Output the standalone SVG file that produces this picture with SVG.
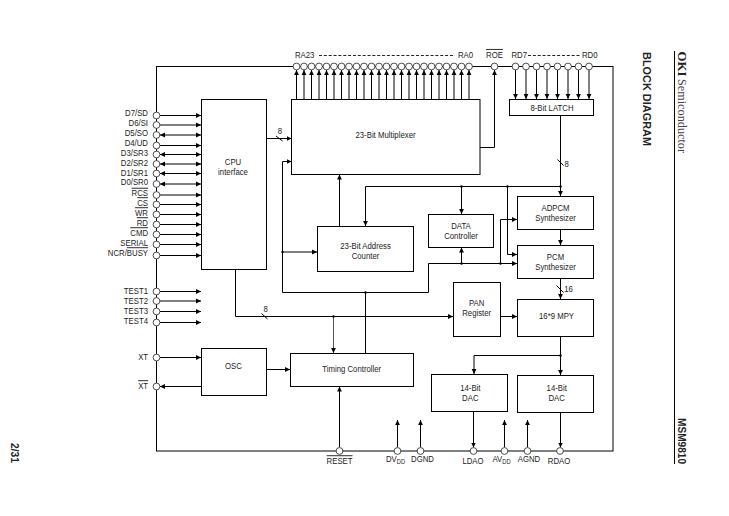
<svg xmlns="http://www.w3.org/2000/svg" width="729" height="516" viewBox="0 0 729 516">
<style>
text{font-family:"Liberation Sans",Arial,sans-serif;font-size:9.5px;fill:#222}
.l text,.n text{transform-box:fill-box;transform:scaleX(.82);transform-origin:left center}
.l text.m,.n text.m{text-anchor:middle;transform-origin:center}
.l text.r{text-anchor:end;transform-origin:right center}
.o{text-decoration:overline}
.b{fill:#fff;stroke:#000;stroke-width:1}
.p{fill:#fff;stroke:#222;stroke-width:.8}
.w{fill:none;stroke:#000;stroke-width:1}
.a{marker-end:url(#h)}
.s{marker-start:url(#t)}
.d{fill:#000}
.sub{font-size:7px}
</style>
<defs>
<marker id="h" markerUnits="userSpaceOnUse" markerWidth="6" markerHeight="6" refX="5" refY="3" orient="auto"><path d="M0,.6L5,3L0,5.4z" fill="#000"/></marker>
<marker id="t" markerUnits="userSpaceOnUse" markerWidth="6" markerHeight="6" refX="0" refY="3" orient="auto"><path d="M5,.6L0,3L5,5.4z" fill="#000"/></marker>
</defs>

<g id="connectors">
<rect class="w" x="156.5" y="66.5" width="456.5" height="384.5"/>
<!-- address bus outputs -->
<path class="a w" d="M296.5 99V70"/><path class="a w" d="M304 99V70"/><path class="a w" d="M311.5 99V70"/><path class="a w" d="M319 99V70"/><path class="a w" d="M326.5 99V70"/><path class="a w" d="M334 99V70"/><path class="a w" d="M341.5 99V70"/><path class="a w" d="M349 99V70"/><path class="a w" d="M356.5 99V70"/><path class="a w" d="M364 99V70"/><path class="a w" d="M371.5 99V70"/><path class="a w" d="M379 99V70"/><path class="a w" d="M386.5 99V70"/><path class="a w" d="M394 99V70"/><path class="a w" d="M401.5 99V70"/><path class="a w" d="M409 99V70"/><path class="a w" d="M416.5 99V70"/><path class="a w" d="M424 99V70"/><path class="a w" d="M431.5 99V70"/><path class="a w" d="M439 99V70"/><path class="a w" d="M446.5 99V70"/><path class="a w" d="M454 99V70"/><path class="a w" d="M461.5 99V70"/><path class="a w" d="M469 99V70"/>
<path class="a w" d="M480 147.5H494.5V70"/>
<!-- data bus inputs -->
<path class="a w" d="M515.5 70V99"/><path class="a w" d="M526 70V99"/><path class="a w" d="M536.5 70V99"/><path class="a w" d="M547 70V99"/><path class="a w" d="M557.5 70V99"/><path class="a w" d="M568 70V99"/><path class="a w" d="M578.5 70V99"/><path class="a w" d="M589 70V99"/>
<path class="a w" d="M560.5 115V196"/>
<path class="w" d="M557.5 159.5L563.5 165.5"/>
<path class="a w" d="M560.5 186.5H365.5V226"/>
<path class="a w" d="M461.5 186.5V214"/>
<path class="a w" d="M507.5 186.5V254.5H517"/>
<circle class="d" cx="461.5" cy="186.5" r="1.2"/><circle class="d" cx="507.5" cy="186.5" r="1.2"/><circle class="d" cx="560.5" cy="186.5" r="1.2"/>
<!-- timing distribution -->
<path class="a w" d="M365.5 353V292.5H282.5V161.5H291.5"/>
<path class="a w" d="M365.5 292.5H428.5V263.5H517"/>
<path class="a w" d="M461.5 263.5V247.5"/>
<path class="a w" d="M500.5 263.5V219.5H517"/>
<path class="a w" d="M282.5 252H317"/>
<path class="a w" d="M339.5 226V174.5"/>
<circle class="d" cx="365.5" cy="292.5" r="1.2"/><circle class="d" cx="461.5" cy="263.5" r="1.2"/><circle class="d" cx="500.5" cy="263.5" r="1.2"/><circle class="d" cx="282.5" cy="252" r="1.2"/>
<!-- CPU buses -->
<path class="a w" d="M266.5 138.5H291.5"/>
<path class="w" d="M276 136L282.5 141"/>
<path class="a w" d="M235.5 269.5V316.5H453"/>
<path class="w" d="M261.5 313.5L267.5 319"/>
<path class="a" d="M333.5 316.5V353" fill="none" stroke="#555"/>
<circle class="d" cx="333.5" cy="316.5" r="1.2"/>
<!-- audio path -->
<path class="a w" d="M560.5 229.5V245"/>
<path class="a w" d="M560.5 278.5V299"/>
<path class="w" d="M556.5 285.5L563.5 292.5"/>
<path class="a w" d="M500.5 316.5H517"/>
<path class="a w" d="M560.5 336.5V375"/>
<path class="a w" d="M560.5 355.5H474V374"/>
<circle class="d" cx="560.5" cy="355.5" r="1.2"/>
<path class="a w" d="M473.5 411.5V447.5"/>
<path class="a w" d="M560.5 412.5V447.5"/>
<!-- clock and supply pins -->
<path class="a w" d="M160 357.5H201"/>
<path class="a w" d="M201 386.5H160"/>
<path class="a w" d="M266.5 369.5H290"/>
<path class="a w" d="M339.5 447.5V386.5"/>
<path class="a w" d="M397.5 447.5V420"/>
<path class="a w" d="M420.5 447.5V420"/>
<path class="a w" d="M504.5 447.5V420"/>
<path class="a w" d="M527.5 447.5V420"/>
<!-- CPU interface pins -->
<path class="a w" d="M160 115.5H201"/>
<path class="a w" d="M160 125H201"/>
<path class="a s w" d="M160 135H201"/>
<path class="a w" d="M160 145.5H201"/>
<path class="a s w" d="M160 154.5H201"/>
<path class="a s w" d="M160 164H201"/>
<path class="a s w" d="M160 173.5H201"/>
<path class="a s w" d="M160 184H201"/>
<path class="a w" d="M160 195H201"/>
<path class="a w" d="M160 204.5H201"/>
<path class="a w" d="M160 214.5H201"/>
<path class="a w" d="M160 224.5H201"/>
<path class="a w" d="M160 234.5H201"/>
<path class="a w" d="M160 244.5H201"/>
<path class="a w" d="M160 255.5H201"/>
<path class="a w" d="M160 291.5H201"/>
<path class="a w" d="M160 301H201"/>
<path class="a w" d="M160 311.5H201"/>
<path class="a w" d="M160 322.5H201"/>
<!-- bus label dashes -->
<path d="M319 55.5H455M528 55.5H580" fill="none" stroke="#222" stroke-width="1" stroke-dasharray="3 1.85"/>
</g>

<g id="cpu-interface" class="n"><rect class="b" x="201.5" y="99.5" width="65" height="170"/><text class="m" x="233" y="165">CPU</text><text class="m" x="233" y="175">interface</text></g>
<g id="multiplexer" class="n"><rect class="b" x="291.5" y="99.5" width="188.5" height="75"/><text class="m" x="385.5" y="138">23-Bit Multiplexer</text></g>
<g id="latch" class="n"><rect class="b" x="509.5" y="99.5" width="84" height="16"/><text class="m" x="552" y="110.7">8-Bit LATCH</text></g>
<g id="address-counter" class="n"><rect class="b" x="317.5" y="226.5" width="96" height="45"/><text class="m" x="365.5" y="249">23-Bit Address</text><text class="m" x="365.5" y="259">Counter</text></g>
<g id="data-controller" class="n"><rect class="b" x="428.5" y="214.5" width="65" height="33"/><text class="m" x="461" y="229">DATA</text><text class="m" x="461" y="239">Controller</text></g>
<g id="adpcm" class="n"><rect class="b" x="517.5" y="196.5" width="76" height="33"/><text class="m" x="555.5" y="211">ADPCM</text><text class="m" x="555.5" y="221">Synthesizer</text></g>
<g id="pcm" class="n"><rect class="b" x="517.5" y="245.5" width="76" height="33"/><text class="m" x="555.5" y="260">PCM</text><text class="m" x="555.5" y="270">Synthesizer</text></g>
<g id="pan-register" class="n"><rect class="b" x="453.5" y="282.5" width="47" height="54"/><text class="m" x="476.7" y="306">PAN</text><text class="m" x="476.7" y="316">Register</text></g>
<g id="mpy" class="n"><rect class="b" x="517.5" y="299.5" width="76" height="37"/><text class="m" x="556.5" y="319">16*9 MPY</text></g>
<g id="osc" class="n"><rect class="b" x="201.5" y="348.5" width="65" height="47"/><text class="m" x="233.5" y="368.7">OSC</text></g>
<g id="timing-controller" class="n"><rect class="b" x="290.5" y="353.5" width="123" height="33"/><text class="m" x="351.7" y="372">Timing Controller</text></g>
<g id="dac-left" class="n"><rect class="b" x="431.5" y="374.5" width="76" height="37"/><text class="m" x="470.3" y="390.7">14-Bit</text><text class="m" x="470.3" y="400.7">DAC</text></g>
<g id="dac-right" class="n"><rect class="b" x="517.5" y="375.5" width="76" height="37"/><text class="m" x="556.7" y="390.7">14-Bit</text><text class="m" x="556.7" y="400.7">DAC</text></g>

<g id="pins-address" class="l">
<circle class="p" cx="296.5" cy="66.5" r="3.4"/><circle class="p" cx="304" cy="66.5" r="3.4"/><circle class="p" cx="311.5" cy="66.5" r="3.4"/><circle class="p" cx="319" cy="66.5" r="3.4"/><circle class="p" cx="326.5" cy="66.5" r="3.4"/><circle class="p" cx="334" cy="66.5" r="3.4"/><circle class="p" cx="341.5" cy="66.5" r="3.4"/><circle class="p" cx="349" cy="66.5" r="3.4"/><circle class="p" cx="356.5" cy="66.5" r="3.4"/><circle class="p" cx="364" cy="66.5" r="3.4"/><circle class="p" cx="371.5" cy="66.5" r="3.4"/><circle class="p" cx="379" cy="66.5" r="3.4"/><circle class="p" cx="386.5" cy="66.5" r="3.4"/><circle class="p" cx="394" cy="66.5" r="3.4"/><circle class="p" cx="401.5" cy="66.5" r="3.4"/><circle class="p" cx="409" cy="66.5" r="3.4"/><circle class="p" cx="416.5" cy="66.5" r="3.4"/><circle class="p" cx="424" cy="66.5" r="3.4"/><circle class="p" cx="431.5" cy="66.5" r="3.4"/><circle class="p" cx="439" cy="66.5" r="3.4"/><circle class="p" cx="446.5" cy="66.5" r="3.4"/><circle class="p" cx="454" cy="66.5" r="3.4"/><circle class="p" cx="461.5" cy="66.5" r="3.4"/><circle class="p" cx="469" cy="66.5" r="3.4"/>
<text x="295" y="57.7">RA23</text><text x="458" y="57.7">RA0</text>
</g>
<g id="pin-roe" class="l"><circle class="p" cx="494.5" cy="66.5" r="3.4"/><text class="m o" x="494.5" y="57.7">ROE</text></g>
<g id="pins-data" class="l">
<circle class="p" cx="515.5" cy="66.5" r="3.4"/><circle class="p" cx="526" cy="66.5" r="3.4"/><circle class="p" cx="536.5" cy="66.5" r="3.4"/><circle class="p" cx="547" cy="66.5" r="3.4"/><circle class="p" cx="557.5" cy="66.5" r="3.4"/><circle class="p" cx="568" cy="66.5" r="3.4"/><circle class="p" cx="578.5" cy="66.5" r="3.4"/><circle class="p" cx="589" cy="66.5" r="3.4"/>
<text x="511.5" y="57.7">RD7</text><text x="582" y="57.7">RD0</text>
</g>
<g id="pins-cpu" class="l">
<circle class="p" cx="156.5" cy="115.5" r="3.4"/><text class="r" x="148" y="116">D7/SD</text>
<circle class="p" cx="156.5" cy="125" r="3.4"/><text class="r" x="148" y="126">D6/SI</text>
<circle class="p" cx="156.5" cy="135" r="3.4"/><text class="r" x="148" y="136">D5/SO</text>
<circle class="p" cx="156.5" cy="145.5" r="3.4"/><text class="r" x="148" y="146">D4/UD</text>
<circle class="p" cx="156.5" cy="154.5" r="3.4"/><text class="r" x="148" y="156">D3/SR3</text>
<circle class="p" cx="156.5" cy="164" r="3.4"/><text class="r" x="148" y="166">D2/SR2</text>
<circle class="p" cx="156.5" cy="173.5" r="3.4"/><text class="r" x="148" y="176">D1/SR1</text>
<circle class="p" cx="156.5" cy="184" r="3.4"/><text class="r" x="148" y="185.5">D0/SR0</text>
<circle class="p" cx="156.5" cy="195" r="3.4"/><text class="r o" x="148" y="196.5">RCS</text>
<circle class="p" cx="156.5" cy="204.5" r="3.4"/><text class="r o" x="148" y="206">CS</text>
<circle class="p" cx="156.5" cy="214.5" r="3.4"/><text class="r o" x="148" y="216">WR</text>
<circle class="p" cx="156.5" cy="224.5" r="3.4"/><text class="r o" x="148" y="226">RD</text>
<circle class="p" cx="156.5" cy="234.5" r="3.4"/><text class="r o" x="148" y="236">CMD</text>
<circle class="p" cx="156.5" cy="244.5" r="3.4"/><text class="r" x="148" y="246">SERIAL</text>
<circle class="p" cx="156.5" cy="255.5" r="3.4"/><text class="r" x="148" y="256">NCR/<tspan class="o">BUSY</tspan></text>
</g>
<g id="pins-test" class="l">
<circle class="p" cx="156.5" cy="291.5" r="3.4"/><text class="r" x="148" y="294">TEST1</text>
<circle class="p" cx="156.5" cy="301" r="3.4"/><text class="r" x="148" y="304">TEST2</text>
<circle class="p" cx="156.5" cy="311.5" r="3.4"/><text class="r" x="148" y="314">TEST3</text>
<circle class="p" cx="156.5" cy="322.5" r="3.4"/><text class="r" x="148" y="324">TEST4</text>
</g>
<g id="pins-clock" class="l">
<circle class="p" cx="156.5" cy="357.5" r="3.4"/><text class="r" x="148" y="360">XT</text>
<circle class="p" cx="156.5" cy="386.5" r="3.4"/><text class="r o" x="148" y="389">XT</text>
</g>
<g id="pins-bottom" class="l">
<circle class="p" cx="339.5" cy="451" r="3.4"/><text class="m o" x="339.5" y="464">RESET</text>
<circle class="p" cx="397.5" cy="451" r="3.4"/><text x="386" y="462">DV<tspan class="sub" dy="2">DD</tspan></text>
<circle class="p" cx="420.5" cy="451" r="3.4"/><text class="m" x="422.5" y="462">DGND</text>
<circle class="p" cx="473.5" cy="451" r="3.4"/><text class="m" x="473" y="464">LDAO</text>
<circle class="p" cx="504.5" cy="451" r="3.4"/><text x="492.5" y="462">AV<tspan class="sub" dy="2">DD</tspan></text>
<circle class="p" cx="527.5" cy="451" r="3.4"/><text class="m" x="529" y="462">AGND</text>
<circle class="p" cx="560" cy="451" r="3.4"/><text class="m" x="559" y="464">RDAO</text>
</g>
<g id="bus-widths" class="l">
<text class="m" x="280" y="134">8</text>
<text x="564.5" y="167">8</text>
<text class="m" x="265.7" y="311.7">8</text>
<text x="564.3" y="291.7">16</text>
</g>

<g id="page-furniture">
<path d="M674.5 51V464" stroke="#000" stroke-width="1" fill="none"/>
<text transform="translate(677.5 51.5) rotate(90)" style="font-family:'Liberation Serif',serif;font-weight:bold;font-size:13.5px" textLength="25" lengthAdjust="spacingAndGlyphs">OKI</text>
<text transform="translate(678 79) rotate(90)" style="font-family:'Liberation Serif',serif;font-size:12.5px;fill:#444" textLength="74" lengthAdjust="spacingAndGlyphs">Semiconductor</text>
<text transform="translate(643 52) rotate(90)" style="font-family:'Liberation Sans',sans-serif;font-weight:bold;font-size:10.8px" textLength="94" lengthAdjust="spacingAndGlyphs">BLOCK DIAGRAM</text>
<text transform="translate(678 418) rotate(90)" style="font-family:'Liberation Sans',sans-serif;font-weight:bold;font-size:10.8px" textLength="46" lengthAdjust="spacingAndGlyphs">MSM9810</text>
<text transform="translate(11 443) rotate(90)" style="font-family:'Liberation Sans',sans-serif;font-weight:bold;font-size:11.5px" textLength="20" lengthAdjust="spacingAndGlyphs">2/31</text>
</g>
</svg>
